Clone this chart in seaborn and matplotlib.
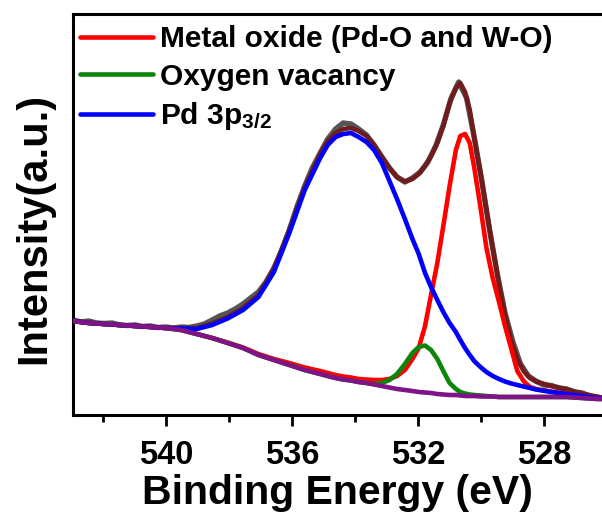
import matplotlib
matplotlib.use("Agg")
import matplotlib.pyplot as plt
from matplotlib.ticker import MultipleLocator
import seaborn as sns

# O 1s region: peak-fit components (each drawn on top of the Shirley background)
energy_fit = [542.94, 542.45, 541.96, 541.47, 540.98, 540.49, 540.00, 539.51, 539.02,
              538.53, 538.04, 537.55, 537.06, 536.57, 536.08, 535.59, 535.10, 534.86,
              534.61, 534.37, 534.12, 533.88, 533.63, 533.39, 533.14, 532.90, 532.66,
              532.41, 532.17, 531.97, 531.77, 531.58, 531.38, 531.19, 530.99, 530.79,
              530.65, 530.50, 530.35, 530.21, 530.01, 529.82, 529.62, 529.42, 529.23,
              529.03, 528.84, 528.64, 528.44, 528.25, 527.76, 527.27, 526.78, 526.29,
              526.15]
background = [95, 93, 92, 91, 90, 89, 88, 86, 82, 78, 73, 68, 61, 56, 51, 46, 42, 40,
              38, 36.5, 35.5, 34, 33, 31.5, 30, 28.5, 27, 26, 25, 24, 23.5, 23, 22, 21.5,
              21, 21, 20.5, 20, 20, 20, 19.5, 19.5, 19.5, 19, 19, 19, 19, 19, 19, 19,
              19, 19, 18, 17, 17]
metal_oxide = [95, 93, 92, 91, 90, 89, 88, 86, 82, 78, 73.5, 68.5, 62, 57, 53, 48.5, 45,
               43, 41, 39.5, 38.5, 37, 36.5, 36, 36, 37, 40, 46, 57, 68, 90, 121, 153,
               190, 230, 266, 280, 282, 273, 249, 209, 168, 138, 114, 90, 67, 45, 35,
               29, 27, 24.5, 22, 20, 18, 17.5]
oxygen_vacancy = [95, 93, 92, 91, 90, 89, 88, 86, 82, 78, 73, 68, 61, 56, 51, 46, 42,
                  40, 38, 36.5, 35.5, 34, 33, 32, 33, 36, 42, 52, 63, 69, 70.5, 66, 57,
                  45, 33, 27, 24, 22.5, 21.5, 21, 20.5, 20, 19.5, 19, 19, 19, 19, 19,
                  19, 19, 19, 19, 18, 17, 17]
pd_3p32 = [95, 93, 92, 91, 90, 89, 88, 87.5, 87, 91, 97.5, 106, 119, 144, 183, 226, 258,
           271, 279, 282, 283, 279, 274, 266, 253, 235, 217, 197, 177, 162, 143, 129,
           116, 104, 93, 84, 76, 68, 61, 55, 49, 44, 40, 37, 34.5, 32.5, 31, 29.5, 28,
           26.5, 24, 22, 20, 18, 17.5]
envelope = [95, 93.5, 92, 91, 90, 89, 88, 88, 88, 92.5, 99, 108, 121, 147, 186, 229, 262,
            275, 283, 287, 288, 285, 280, 271, 259, 248, 239, 234.5, 237, 242, 250, 260,
            273, 290, 313, 328, 333, 324, 306, 279, 243, 206, 168, 132, 101, 75, 57, 45,
            38, 34.5, 30, 26.5, 22.5, 19, 18.5]

# measured spectrum
energy_raw = [542.94, 542.69, 542.45, 542.20, 541.96, 541.71, 541.47, 541.22, 540.98,
              540.73, 540.49, 540.24, 540.00, 539.76, 539.51, 539.27, 539.02, 538.78,
              538.53, 538.29, 538.04, 537.80, 537.55, 537.31, 537.06, 536.82, 536.57,
              536.33, 536.08, 535.84, 535.59, 535.35, 535.10, 534.86, 534.61, 534.37,
              534.12, 533.88, 533.63, 533.39, 533.14, 532.90, 532.66, 532.41, 532.17,
              531.92, 531.68, 531.43, 531.19, 530.94, 530.70, 530.45, 530.21, 529.96,
              529.72, 529.47, 529.23, 528.98, 528.74, 528.49, 528.25, 528.00, 527.76,
              527.51, 527.27, 527.02, 526.78, 526.53, 526.29, 526.15]
raw_counts = [96, 94, 95, 93, 92.5, 93, 91, 90.5, 91, 89.5, 90, 88.5, 89, 88, 89, 88.5,
              90, 92, 96, 100, 103, 107, 112, 118, 124, 134, 148, 165, 186, 209, 230, 248,
              263, 277, 287, 293, 292, 287, 281, 271, 259, 248, 239, 234, 238, 244, 254,
              270, 291, 318, 334, 318, 279, 234, 186, 141, 103, 74, 52, 40, 35, 31, 30.5,
              28, 27, 24, 23, 20, 19, 18]

labels = ["Metal oxide (Pd-O and W-O)", "Oxygen vacancy", "Pd 3p$_{3/2}$"]
x_major = [540, 536, 532, 528]

sns.set_style("ticks")
plt.rcParams["font.family"] = ["Liberation Sans", "DejaVu Sans"]
plt.rcParams["font.weight"] = "bold"
plt.rcParams["axes.labelweight"] = "bold"
plt.rcParams["text.color"] = "black"
plt.rcParams["axes.labelcolor"] = "black"
plt.rcParams["xtick.color"] = "black"
plt.rcParams["axes.edgecolor"] = "black"
plt.rcParams["mathtext.fontset"] = "custom"
plt.rcParams["mathtext.rm"] = "Liberation Sans:bold"
plt.rcParams["mathtext.it"] = "Liberation Sans:bold"
plt.rcParams["mathtext.bf"] = "Liberation Sans:bold"
plt.rcParams["mathtext.default"] = "rm"

fig = plt.figure(figsize=(6.02, 5.15), dpi=100)
ax = fig.add_axes([73 / 602, 100 / 515, 529 / 602, 401 / 515])

lw = 3.3
sns.lineplot(x=energy_raw, y=raw_counts, color="#555555", linewidth=lw + 0.6, ax=ax, zorder=1)
sns.lineplot(x=energy_fit, y=envelope, color="#701c1c", linewidth=lw, ax=ax, zorder=2)
sns.lineplot(x=energy_fit, y=metal_oxide, color="#ff0000", linewidth=lw, ax=ax, zorder=3,
             label=labels[0])
sns.lineplot(x=energy_fit, y=oxygen_vacancy, color="#0b860b", linewidth=lw, ax=ax, zorder=4,
             label=labels[1])
sns.lineplot(x=energy_fit, y=pd_3p32, color="#0000ff", linewidth=lw, ax=ax, zorder=5,
             label=labels[2])
sns.lineplot(x=energy_fit, y=background, color="#7f1387", linewidth=lw, ax=ax, zorder=6)

ax.set_xlim(542.95, 526.15)
ax.set_ylim(1, 402)

ax.set_xticks(x_major)
ax.set_xticklabels([str(v) for v in x_major])
ax.xaxis.set_minor_locator(MultipleLocator(2))
ax.set_yticks([])
ax.tick_params(axis="x", which="major", direction="out", length=8, width=2,
               labelsize=23.5, pad=10, colors="black")
ax.tick_params(axis="x", which="minor", direction="out", length=5, width=2, colors="black")
for side in ["left", "bottom", "top"]:
    ax.spines[side].set_linewidth(2.2)
    ax.spines[side].set_color("black")
ax.spines["right"].set_visible(False)

ax.set_xlabel("Binding Energy (eV)", fontsize=29.5, labelpad=2)
ax.set_ylabel("Intensity(a.u.)", fontsize=30)
ax.yaxis.set_label_coords(-0.035, 0.465)

handles, names = ax.get_legend_handles_labels()
ax.legend(handles, names, loc="upper left", bbox_to_anchor=(-0.009, 1.0), frameon=False,
          prop={"weight": "bold", "size": 21.5}, handlelength=2.45, handletextpad=0.23,
          labelspacing=0.32, borderpad=0.38, borderaxespad=0)

fig.savefig("out.png", dpi=100)
